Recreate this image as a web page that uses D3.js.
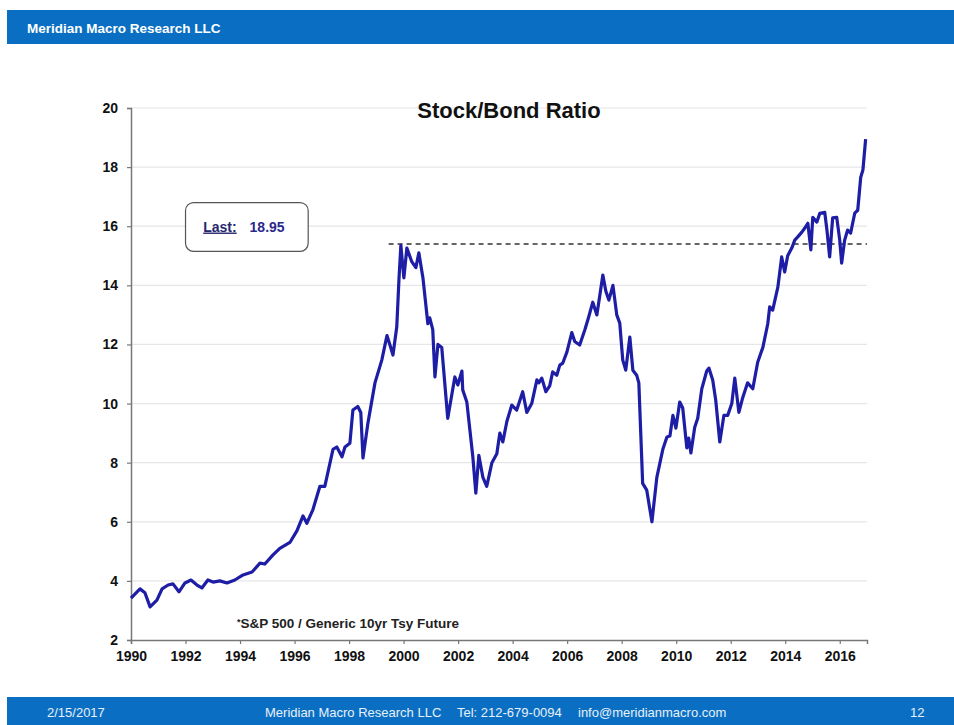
<!DOCTYPE html>
<html>
<head>
<meta charset="utf-8">
<script src="https://cdn.jsdelivr.net/npm/d3@7"></script>
<style>
  body { margin: 0; background: #fff; }
  svg { display: block; font-family: Arial, "Liberation Sans", sans-serif; }
</style>
</head>
<body>
<div id="chart"></div>
<script>
// decimal year of each reading
var years = [
    1990.00, 1990.33, 1990.51, 1990.70, 1990.95, 1991.14, 1991.36, 1991.54, 1991.76, 1991.98,
    1992.20, 1992.42, 1992.60, 1992.82, 1993.01, 1993.26, 1993.52, 1993.81, 1994.11, 1994.44,
    1994.73, 1994.91, 1995.21, 1995.46, 1995.83, 1996.09, 1996.31, 1996.45, 1996.67, 1996.93,
    1997.11, 1997.41, 1997.55, 1997.74, 1997.85, 1998.03, 1998.14, 1998.32, 1998.43, 1998.51,
    1998.69, 1998.95, 1999.20, 1999.39, 1999.50, 1999.61, 1999.75, 1999.83, 1999.90, 2000.01,
    2000.12, 2000.30, 2000.45, 2000.56, 2000.71, 2000.89, 2000.96, 2001.07, 2001.15, 2001.26,
    2001.40, 2001.62, 2001.88, 2001.99, 2002.14, 2002.17, 2002.32, 2002.54, 2002.65, 2002.76,
    2002.91, 2003.05, 2003.24, 2003.42, 2003.53, 2003.64, 2003.79, 2003.97, 2004.15, 2004.37,
    2004.52, 2004.70, 2004.89, 2004.96, 2005.07, 2005.22, 2005.36, 2005.47, 2005.62, 2005.73,
    2005.84, 2005.99, 2006.17, 2006.28, 2006.46, 2006.65, 2006.79, 2006.94, 2007.09, 2007.20,
    2007.31, 2007.42, 2007.53, 2007.68, 2007.82, 2007.93, 2008.04, 2008.15, 2008.30, 2008.41,
    2008.55, 2008.63, 2008.77, 2008.92, 2009.11, 2009.29, 2009.51, 2009.66, 2009.77, 2009.88,
    2009.99, 2010.13, 2010.24, 2010.39, 2010.46, 2010.54, 2010.68, 2010.79, 2010.94, 2011.12,
    2011.20, 2011.34, 2011.45, 2011.60, 2011.75, 2011.89, 2012.04, 2012.15, 2012.30, 2012.44,
    2012.62, 2012.81, 2012.99, 2013.18, 2013.36, 2013.43, 2013.54, 2013.73, 2013.87, 2013.98,
    2014.09, 2014.24, 2014.35, 2014.46, 2014.61, 2014.72, 2014.83, 2014.94, 2015.01, 2015.16,
    2015.27, 2015.45, 2015.53, 2015.63, 2015.74, 2015.89, 2016.00, 2016.07, 2016.18, 2016.29,
    2016.40, 2016.55, 2016.66, 2016.77, 2016.85, 2016.95
];

// S&P 500 / 10yr Tsy future ratio
var ratio = [
    3.42, 3.73, 3.60, 3.12, 3.35, 3.73, 3.86, 3.90, 3.63, 3.93,
    4.03, 3.86, 3.76, 4.03, 3.96, 4.00, 3.93, 4.03, 4.20, 4.30,
    4.60, 4.57, 4.88, 5.10, 5.30, 5.70, 6.20, 5.95, 6.40, 7.20,
    7.20, 8.45, 8.53, 8.20, 8.53, 8.66, 9.78, 9.90, 9.70, 8.16,
    9.33, 10.70, 11.47, 12.30, 11.98, 11.64, 12.60, 14.20, 15.35, 14.25,
    15.26, 14.80, 14.60, 15.10, 14.25, 12.70, 12.90, 12.50, 10.90, 12.00,
    11.90, 9.50, 10.90, 10.63, 11.10, 10.46, 10.05, 8.20, 6.97, 8.25,
    7.50, 7.20, 8.00, 8.30, 9.00, 8.70, 9.40, 9.95, 9.78, 10.40,
    9.70, 10.00, 10.80, 10.70, 10.86, 10.40, 10.60, 11.07, 10.96, 11.30,
    11.37, 11.74, 12.40, 12.10, 11.98, 12.50, 12.93, 13.43, 13.00, 13.67,
    14.35, 13.80, 13.50, 14.00, 13.00, 12.72, 11.47, 11.13, 12.25, 11.13,
    10.96, 10.70, 7.30, 7.07, 6.00, 7.50, 8.45, 8.87, 8.90, 9.60,
    9.17, 10.05, 9.85, 8.50, 8.83, 8.33, 9.20, 9.50, 10.50, 11.10,
    11.20, 10.80, 10.12, 8.70, 9.60, 9.60, 10.00, 10.86, 9.70, 10.20,
    10.70, 10.50, 11.40, 11.90, 12.70, 13.27, 13.16, 13.94, 14.96, 14.45,
    15.00, 15.26, 15.53, 15.64, 15.80, 15.94, 16.10, 15.20, 16.30, 16.14,
    16.44, 16.47, 15.87, 14.96, 16.28, 16.30, 15.53, 14.75, 15.53, 15.87,
    15.77, 16.44, 16.54, 17.66, 17.90, 18.95
];

var yTicks = [2, 4, 6, 8, 10, 12, 14, 16, 18, 20];
var xTicks = [1990, 1992, 1994, 1996, 1998, 2000, 2002, 2004, 2006, 2008, 2010, 2012, 2014, 2016];

var prevPeak = 15.4;      // dashed reference level
var prevPeakFrom = 1999.45;

var headerText = "Meridian Macro Research LLC";
var footerDate = "2/15/2017";
var footerFirm = "Meridian Macro Research LLC";
var footerTel = "Tel: 212-679-0094";
var footerMail = "info@meridianmacro.com";
var pageNo = "12";

function drawChart() {
    var W = 954, H = 725;
    var blue = "#0a6fc2";
    var lineBlue = "#1d1da6";

    d3.select("#chart").selectAll("*").remove();
    var svg = d3.select("#chart")
        .append("svg")
        .attr("width", W)
        .attr("height", H);

    // header / footer bars
    svg.append("rect").attr("x", 7).attr("y", 10).attr("width", W - 7).attr("height", 34).attr("fill", blue);
    svg.append("text")
        .attr("x", 27).attr("y", 33)
        .attr("fill", "#fff")
        .style("font-size", "13.5px").style("font-weight", "bold")
        .text(headerText);

    svg.append("rect").attr("x", 7).attr("y", 697).attr("width", W - 7).attr("height", H - 697).attr("fill", blue);
    var foot = svg.append("g")
        .attr("fill", "#e8f0fa")
        .style("font-size", "13px");
    foot.append("text").attr("x", 47).attr("y", 717).text(footerDate);
    foot.append("text").attr("x", 265).attr("y", 717).text(footerFirm);
    foot.append("text").attr("x", 457).attr("y", 717).text(footerTel);
    foot.append("text").attr("x", 578).attr("y", 717).text(footerMail);
    foot.append("text").attr("x", 910).attr("y", 717).text(pageNo);

    // scales
    var x = d3.scaleLinear().domain([1990, 2017]).range([131, 867]);
    var y = d3.scaleLinear().domain([2, 20]).range([640, 108]);

    // gridlines
    svg.append("g")
        .selectAll("line")
        .data(yTicks.slice(1))
        .enter()
        .append("line")
        .attr("x1", x(1990)).attr("x2", x(2017))
        .attr("y1", function (d) { return y(d); })
        .attr("y2", function (d) { return y(d); })
        .attr("stroke", "#e6e6e6")
        .attr("stroke-width", 1.2);

    // axes
    var yAxis = svg.append("g")
        .attr("transform", "translate(" + x(1990) + ",0)")
        .call(d3.axisLeft(y).tickValues(yTicks).tickSize(4).tickPadding(9));
    var xAxis = svg.append("g")
        .attr("transform", "translate(0," + y(2) + ")")
        .call(d3.axisBottom(x).tickValues(xTicks).tickFormat(d3.format("d")).tickSize(4).tickPadding(7));

    [yAxis, xAxis].forEach(function (ax) {
        ax.select(".domain").attr("stroke", "#777").attr("stroke-width", 1.5);
        ax.selectAll(".tick line").attr("stroke", "#777").attr("stroke-width", 1.2);
        ax.selectAll("text")
            .attr("fill", "#111")
            .style("font-size", "14px")
            .style("font-weight", "bold")
            .style("font-family", "Arial, 'Liberation Sans', sans-serif");
    });

    // dashed level of the 2000 peak
    svg.append("line")
        .attr("x1", x(prevPeakFrom)).attr("x2", x(2017))
        .attr("y1", y(prevPeak)).attr("y2", y(prevPeak))
        .attr("stroke", "#333")
        .attr("stroke-width", 1.4)
        .attr("stroke-dasharray", "5,4");

    // ratio line
    var data = years.map(function (d, i) { return { year: d, value: ratio[i] }; });
    var line = d3.line()
        .x(function (d) { return x(d.year); })
        .y(function (d) { return y(d.value); });
    svg.append("path")
        .datum(data)
        .attr("d", line)
        .attr("fill", "none")
        .attr("stroke", lineBlue)
        .attr("stroke-width", 3.2)
        .attr("stroke-linejoin", "round");

    // title
    svg.append("text")
        .attr("x", 509).attr("y", 118)
        .attr("text-anchor", "middle")
        .attr("fill", "#111")
        .style("font-size", "22px").style("font-weight", "bold")
        .text("Stock/Bond Ratio");

    // "Last" box
    var box = svg.append("g");
    box.append("rect")
        .attr("x", x(1992.0)).attr("y", y(16.8))
        .attr("width", x(1996.5) - x(1992.0))
        .attr("height", y(15.15) - y(16.8))
        .attr("rx", 8)
        .attr("fill", "#fff")
        .attr("stroke", "#555")
        .attr("stroke-width", 1.2);
    box.append("text")
        .attr("x", x(1992.65)).attr("y", y(15.82))
        .attr("fill", "#26266e")
        .style("font-size", "14px").style("font-weight", "bold")
        .style("text-decoration", "underline")
        .text("Last:");
    box.append("text")
        .attr("x", x(1994.35)).attr("y", y(15.82))
        .attr("fill", "#2a2a8c")
        .style("font-size", "14px").style("font-weight", "bold")
        .text(d3.format(".2f")(ratio[ratio.length - 1]));

    // footnote
    var note = svg.append("text")
        .attr("x", 237).attr("y", 628)
        .attr("fill", "#222")
        .style("font-size", "13.5px").style("font-weight", "bold");
    note.append("tspan").style("font-size", "9px").attr("dy", -3).text("*");
    note.append("tspan").attr("dy", 3).text("S&P 500 / Generic 10yr Tsy Future");
}

drawChart();
</script>
</body>
</html>
